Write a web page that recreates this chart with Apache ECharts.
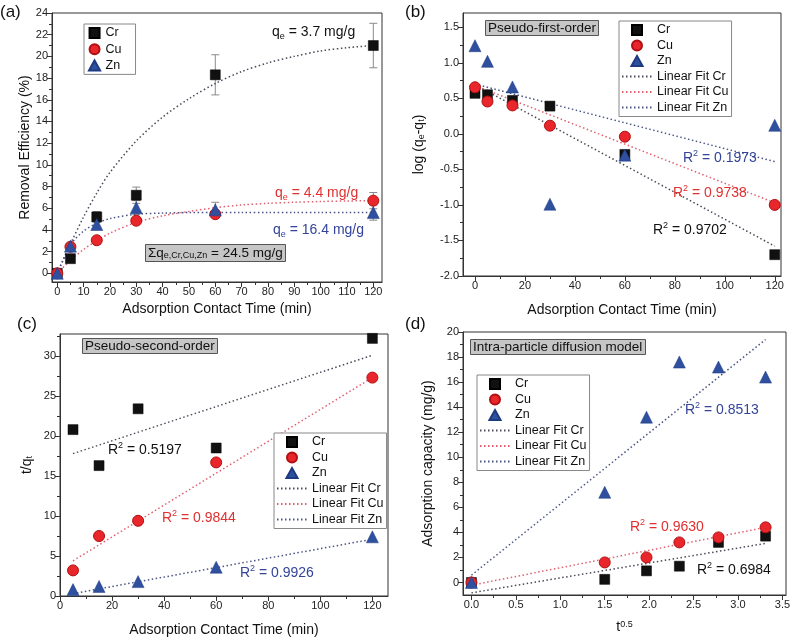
<!DOCTYPE html>
<html><head><meta charset="utf-8">
<script src="https://cdn.jsdelivr.net/npm/echarts@6/dist/echarts.min.js"></script>
<style>html,body{margin:0;padding:0;background:#fff}#c{width:800px;height:641px}</style>
</head><body><div id="c"></div>
<script>
// ---------------- data ----------------
// (a) removal efficiency
const timeA = [0, 5, 15, 30, 60, 120];
const remCr = [0, 1.35, 5.2, 7.2, 18.3, 21.0];
const remCu = [0, 2.45, 3.05, 4.85, 5.45, 6.7];
const remZn = [0, 2.5, 4.5, 6.05, 5.85, 5.6];
const errCr = [0, 0.2, 0.5, 0.75, 1.85, 2.05];
const errCu = [0, 0.15, 0.2, 0.3, 0.3, 0.75];
const errZn = [0, 0.2, 0.4, 0.65, 0.7, 0.7];
const fitTimeA = [0, 5, 10, 15, 20, 30, 40, 50, 60, 70, 80, 90, 100, 110, 120];
const fitACr = [0, 2.7, 5.2, 7.4, 9.3, 12.2, 14.4, 16.1, 17.5, 18.6, 19.4, 20.0, 20.5, 20.8, 21.0];
const fitACu = [0, 1.2, 2.2, 3.0, 3.7, 4.7, 5.3, 5.7, 6.05, 6.3, 6.45, 6.55, 6.62, 6.67, 6.7];
const fitAZn = [0, 2.6, 3.9, 4.6, 5.05, 5.45, 5.55, 5.6, 5.6, 5.6, 5.6, 5.6, 5.6, 5.6, 5.6];
// (b) pseudo-first-order
const timeB = [0, 5, 15, 30, 60, 120];
const logCr = [0.57, 0.55, 0.47, 0.39, -0.29, -1.70];
const logCu = [0.655, 0.455, 0.40, 0.115, -0.04, -1.0];
const logZn = [1.24, 1.02, 0.66, -0.99, -0.30, 0.12];
const fitXB = [0, 120];
const fitBCr = [0.69, -1.58];
const fitBCu = [0.68, -0.97];
const fitBZn = [0.70, -0.39];
// (c) pseudo-second-order
const timeC = [5, 15, 30, 60, 120];
const tqCr = [20.8, 16.3, 23.4, 18.5, 32.2];
const tqCu = [3.2, 7.5, 9.4, 16.7, 27.3];
const tqZn = [0.8, 1.2, 1.8, 3.6, 7.4];
const fitXC = [5, 120];
const fitCCr = [17.8, 30.1];
const fitCCu = [4.4, 27.3];
const fitCZn = [0.3, 7.1];
// (d) intra-particle diffusion
const sqrtT = [0, 1.50, 1.97, 2.34, 2.78, 3.31];
const capCr = [0, 0.25, 0.93, 1.3, 3.2, 3.7];
const capCu = [0, 1.6, 2.0, 3.2, 3.6, 4.4];
const capZn = [0, 7.2, 13.2, 17.6, 17.2, 16.4];
const fitXD = [0, 3.31];
const fitDCr = [-0.83, 3.12];
const fitDCu = [-0.22, 4.4];
const fitDZn = [0.58, 19.4];
// tick values
const ticksAX = [0,10,20,30,40,50,60,70,80,90,100,110,120];
const minorAX = [5,15,25,35,45,55,65,75,85,95,105,115];
const ticksAY = [0,2,4,6,8,10,12,14,16,18,20,22,24];
const minorAY = [1,3,5,7,9,11,13,15,17,19,21,23];
const ticksBX = [0,20,40,60,80,100,120];
const minorBX = [10,30,50,70,90,110];
const ticksBY = [-2.0,-1.5,-1.0,-0.5,0.0,0.5,1.0,1.5];
const minorBY = [-1.75,-1.25,-0.75,-0.25,0.25,0.75,1.25];
const ticksCX = [0,20,40,60,80,100,120];
const minorCX = [10,30,50,70,90,110];
const ticksCY = [0,5,10,15,20,25,30];
const minorCY = [2.5,7.5,12.5,17.5,22.5,27.5,32.5];
const ticksDX = [0,0.5,1.0,1.5,2.0,2.5,3.0,3.5];
const minorDX = [0.25,0.75,1.25,1.75,2.25,2.75,3.25];
const ticksDY = [0,2,4,6,8,10,12,14,16,18,20];
const minorDY = [1,3,5,7,9,11,13,15,17,19];

// ---------------- style ----------------
const FF = '"Liberation Sans", Arial, Helvetica, sans-serif';
const C_CR = '#111111', C_CU = '#e8262b', C_ZN = '#2f4f9f';
const F_CR = '#4a4a5a', F_CU = '#e06070', F_ZN = '#4a5585';
const T_RED = '#e03030', T_BLUE = '#33449a';

const chart = echarts.init(document.getElementById('c'), null, {renderer: 'canvas'});

function richSet(color) {
  return {
    s: {fontSize: 9, fontFamily: FF, color: color, verticalAlign: 'bottom', lineHeight: 11},
    p: {fontSize: 9, fontFamily: FF, color: color, verticalAlign: 'top', lineHeight: 9}
  };
}
const fmtInt = v => String(v);
const fmt1 = v => v.toFixed(1);

function mkAxes(dim, g, min, max, majors, minors, fmt, name, gap) {
  const pos = dim === 'x' ? 'bottom' : 'left';
  const base = {type: 'value', gridIndex: g, min: min, max: max, position: pos, splitLine: {show: false}};
  return [
    Object.assign({}, base, {
      axisLine: {show: true, onZero: false, lineStyle: {color: '#333', width: 1}},
      axisTick: {show: true, length: 5, customValues: majors, lineStyle: {color: '#333', width: 1}},
      axisLabel: {show: true, customValues: majors, formatter: fmt, color: '#222', fontSize: 11, fontFamily: FF, margin: 4},
      name: name, nameLocation: 'middle', nameGap: gap,
      nameTextStyle: {color: '#111', fontSize: 14, fontFamily: FF, rich: richSet('#111')}
    }),
    Object.assign({}, base, {
      axisLine: {show: false, onZero: false},
      axisTick: {show: true, length: 3, customValues: minors, lineStyle: {color: '#333', width: 1}},
      axisLabel: {show: false}
    })
  ];
}

const grids = [
  {left: 52, top: 13, width: 330, height: 269},
  {left: 463, top: 13, width: 318, height: 263},
  {left: 60, top: 334, width: 328, height: 262},
  {left: 463, top: 332, width: 323, height: 263}
].map(g => Object.assign(g, {show: true, borderColor: '#333', borderWidth: 1, backgroundColor: 'transparent'}));

const xAxis = [].concat(
  mkAxes('x', 0, -2, 123.3, ticksAX, minorAX, fmtInt, 'Adsorption Contact Time (min)', 20),
  mkAxes('x', 1, -4.8, 122.5, ticksBX, minorBX, fmtInt, 'Adsorption Contact Time (min)', 27),
  mkAxes('x', 2, 0, 126, ticksCX, minorCX, fmtInt, 'Adsorption Contact Time (min)', 27),
  mkAxes('x', 3, -0.095, 3.54, ticksDX, minorDX, fmt1, 't{p|0.5}', 25)
);
const yAxis = [].concat(
  mkAxes('y', 0, -0.8, 24.0, ticksAY, minorAY, fmtInt, 'Removal Efficiency (%)', 19),
  mkAxes('y', 1, -2.0, 1.7, ticksBY, minorBY, fmt1, 'log (q{s|e}-q{s|t})', 37),
  mkAxes('y', 2, 0, 32.75, ticksCY, minorCY, fmtInt, 't/q{s|t}', 26),
  mkAxes('y', 3, -1, 20, ticksDY, minorDY, fmtInt, 'Adsorption capacity (mg/g)', 28)
);

function pairs(xs, ys) { return xs.map((x, i) => [x, ys[i]]); }

const MK = {
  Cr: {symbol: 'rect', symbolSize: 10, itemStyle: {color: C_CR, borderColor: '#000', borderWidth: 0.5, opacity: 1}},
  Cu: {symbol: 'circle', symbolSize: 11, itemStyle: {color: C_CU, borderColor: '#b01010', borderWidth: 1, opacity: 1}},
  Zn: {symbol: 'triangle', symbolSize: 12, itemStyle: {color: C_ZN, borderColor: '#1e3a80', borderWidth: 0.5, opacity: 1}}
};
function sc(name, g, xs, ys) {
  return Object.assign({type: 'scatter', name: name, xAxisIndex: 2 * g, yAxisIndex: 2 * g,
    data: pairs(xs, ys), z: 5, animation: false}, JSON.parse(JSON.stringify(MK[name])));
}
function fit(name, g, xs, ys, color, smooth) {
  return {type: 'line', name: name, xAxisIndex: 2 * g, yAxisIndex: 2 * g, data: pairs(xs, ys),
    symbol: 'none', smooth: smooth ? 0.3 : false, z: 3, silent: true,
    itemStyle: {color: color},
    lineStyle: {color: color, width: 1.5, type: [1.5, 2.5]}};
}
function errBars(name, xs, ys, es) {
  const data = [];
  xs.forEach((x, i) => { if (es[i] > 0) data.push([x, ys[i] - es[i], ys[i] + es[i]]); });
  return {type: 'custom', name: name, xAxisIndex: 0, yAxisIndex: 0, z: 2, silent: true,
    encode: {x: 0, y: [1, 2]}, data: data,
    renderItem: function (params, api) {
      const x = api.value(0);
      const lo = api.coord([x, api.value(1)]);
      const hi = api.coord([x, api.value(2)]);
      const w = 4, st = {stroke: '#8a8a8a', lineWidth: 1};
      return {type: 'group', children: [
        {type: 'line', shape: {x1: lo[0], y1: lo[1], x2: hi[0], y2: hi[1]}, style: st},
        {type: 'line', shape: {x1: lo[0] - w, y1: lo[1], x2: lo[0] + w, y2: lo[1]}, style: st},
        {type: 'line', shape: {x1: hi[0] - w, y1: hi[1], x2: hi[0] + w, y2: hi[1]}, style: st}
      ]};
    }};
}

const series = [
  // (a)
  errBars('errCr', timeA, remCr, errCr),
  errBars('errCu', timeA, remCu, errCu),
  errBars('errZn', timeA, remZn, errZn),
  fit('curve Cr', 0, fitTimeA, fitACr, F_CR, true),
  fit('curve Cu', 0, fitTimeA, fitACu, F_CU, true),
  fit('curve Zn', 0, fitTimeA, fitAZn, F_ZN, true),
  sc('Cr', 0, timeA, remCr), sc('Cu', 0, timeA, remCu), sc('Zn', 0, timeA, remZn),
  // (b)
  fit('Linear Fit Cr', 1, fitXB, fitBCr, F_CR), fit('Linear Fit Cu', 1, fitXB, fitBCu, F_CU), fit('Linear Fit Zn', 1, fitXB, fitBZn, F_ZN),
  sc('Cr', 1, timeB, logCr), sc('Cu', 1, timeB, logCu), sc('Zn', 1, timeB, logZn),
  // (c)
  fit('Linear Fit Cr', 2, fitXC, fitCCr, F_CR), fit('Linear Fit Cu', 2, fitXC, fitCCu, F_CU), fit('Linear Fit Zn', 2, fitXC, fitCZn, F_ZN),
  sc('Cr', 2, timeC, tqCr), sc('Cu', 2, timeC, tqCu), sc('Zn', 2, timeC, tqZn),
  // (d)
  fit('Linear Fit Cr', 3, fitXD, fitDCr, F_CR), fit('Linear Fit Cu', 3, fitXD, fitDCu, F_CU), fit('Linear Fit Zn', 3, fitXD, fitDZn, F_ZN),
  sc('Cr', 3, sqrtT, capCr), sc('Cu', 3, sqrtT, capCu), sc('Zn', 3, sqrtT, capZn)
];

// legend icons (kept square via path icons)
const ICON = {
  Cr: 'path://M0,0L10,0L10,10L0,10Z',
  Cu: 'path://M5,0A5,5,0,1,1,4.999,0Z',
  Zn: 'path://M5,0L10,9L0,9Z'
};
function legItems(names) {
  return names.map(n => ICON[n] ? {name: n, icon: ICON[n], itemStyle: {opacity: 1}}
                                : {name: n, itemStyle: {opacity: 0, color: 'rgba(0,0,0,0)', borderWidth: 0}});
}
function legendAt(left, top, names, itemWidth, padRight) {
  return {left: left, top: top, orient: 'vertical', data: legItems(names), selectedMode: false,
    itemWidth: itemWidth, itemHeight: 10, itemGap: 1.5, symbolKeepAspect: true,
    padding: [2, padRight, 2, 2], borderColor: '#888', borderWidth: 1, backgroundColor: '#fff',
    textStyle: {color: '#111', fontSize: 12.5, fontFamily: FF, lineHeight: 14}};
}
const fullNames = ['Cr', 'Cu', 'Zn', 'Linear Fit Cr', 'Linear Fit Cu', 'Linear Fit Zn'];
const legend = [
  Object.assign(legendAt(84, 24, ['Cr', 'Cu', 'Zn'], 12, 14), {itemGap: 2.2, padding: [2, 14, 2, 4]}),
  legendAt(619, 21, fullNames, 30, 3),
  legendAt(274, 433, fullNames, 30, 3),
  legendAt(477, 375, fullNames, 30, 3)
];

function note(text, left, top, color, size, extra) {
  return Object.assign({text: text, left: left, top: top, padding: 0,
    textStyle: {color: color, fontSize: size, fontWeight: 'normal', fontFamily: FF, lineHeight: 18, rich: richSet(color)}}, extra || {});
}
function boxNote(text, left, top) {
  return {text: text, left: left, top: top, padding: [1, 3], backgroundColor: '#c6c6c6', borderColor: '#555', borderWidth: 1,
    textStyle: {color: '#111', fontSize: 13.5, fontWeight: 'normal', fontFamily: FF, lineHeight: 14, rich: richSet('#111')}};
}
const title = [
  note('(a)', 0, 3, '#111', 17),
  note('(b)', 405, 3, '#111', 17),
  note('(c)', 17, 315, '#111', 17),
  note('(d)', 405, 315, '#111', 17),
  note('q{s|e} = 3.7 mg/g', 272, 23, '#111', 14),
  note('q{s|e} = 4.4 mg/g', 275, 184, T_RED, 14),
  note('q{s|e} = 16.4 mg/g', 273, 221, T_BLUE, 14),
  Object.assign(boxNote('Σq{s|e,Cr,Cu,Zn} = 24.5 mg/g', 145, 244), {padding: [2, 3]}),
  boxNote('Pseudo-first-order', 485, 20),
  boxNote('Pseudo-second-order', 82, 338),
  boxNote('Intra-particle diffusion model', 470, 339),
  note('R{p|2} = 0.1973', 683, 149, T_BLUE, 14),
  note('R{p|2} = 0.9738', 673, 184, T_RED, 14),
  note('R{p|2} = 0.9702', 653, 221, '#111', 14),
  note('R{p|2} = 0.5197', 108, 441, '#111', 14),
  note('R{p|2} = 0.9844', 162, 509, T_RED, 14),
  note('R{p|2} = 0.9926', 240, 564, T_BLUE, 14),
  note('R{p|2} = 0.8513', 685, 401, T_BLUE, 14),
  note('R{p|2} = 0.9630', 630, 518, T_RED, 14),
  note('R{p|2} = 0.6984', 697, 561, '#111', 14)
];

chart.setOption({
  animation: false,
  backgroundColor: '#fff',
  grid: grids, xAxis: xAxis, yAxis: yAxis,
  legend: legend, title: title, series: series
});
</script></body></html>
